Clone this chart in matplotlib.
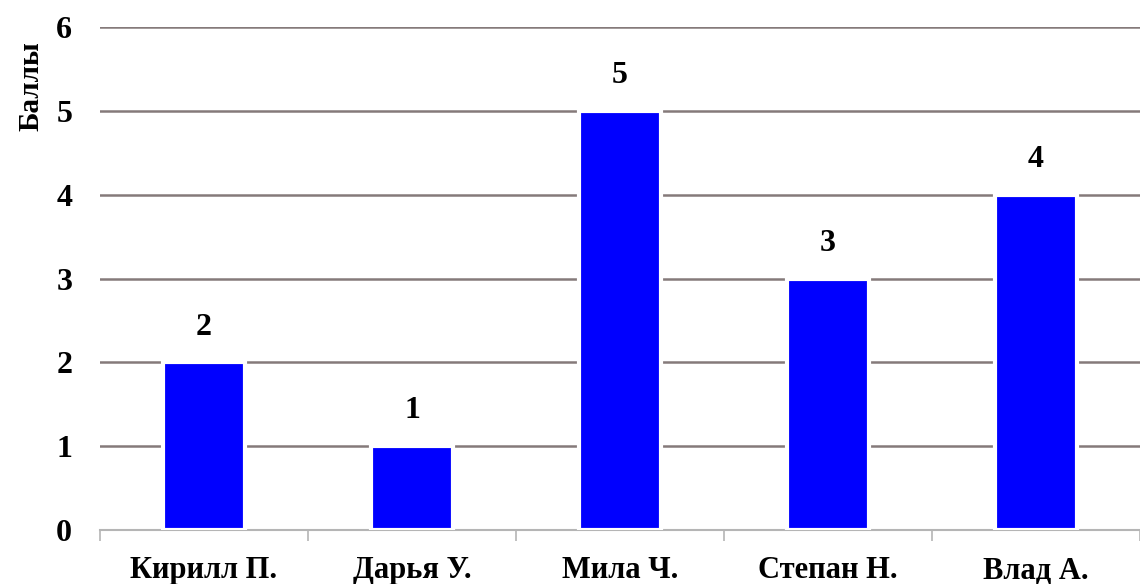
import matplotlib
matplotlib.use("Agg")
import matplotlib.pyplot as plt
import numpy as np

students = ["Кирилл П.", "Дарья У.", "Мила Ч.", "Степан Н.", "Влад А."]
scores = [2, 1, 5, 3, 4]
y_ticks = [0, 1, 2, 3, 4, 5, 6]

plt.rcParams["font.family"] = ["Liberation Serif", "DejaVu Serif"]
plt.rcParams["font.weight"] = "bold"

fig = plt.figure(figsize=(11.4, 5.84), dpi=100)
ax = fig.add_axes([100 / 1140, 1 - 530 / 584, 1 - 100 / 1140, (530 - 27) / 584])

x = np.arange(len(students))
bars = ax.bar(x, scores, width=0.39, color="#0000ff", edgecolor="white",
              linewidth=3, zorder=3)

for xi, v in zip(x, scores):
    ax.text(xi, v + 0.42, str(v), ha="center", va="center",
            fontsize=23, fontweight="bold", zorder=4)

ax.set_xlim(-0.5, len(students) - 0.5)
ax.set_ylim(0, 6)
ax.set_yticks(y_ticks)
ax.set_yticklabels([str(t) for t in y_ticks], fontsize=23, fontweight="bold")
ax.yaxis.grid(True, color="#857a7a", linewidth=1.8, zorder=1)
ax.tick_params(axis="y", length=0, pad=20)

ax.set_xticks(x)
ax.set_xticklabels(students, fontsize=22, fontweight="bold")
ax.set_xticks(np.arange(-0.5, len(students)), minor=True)
ax.tick_params(axis="x", which="major", length=0, pad=19)
ax.tick_params(axis="x", which="minor", length=8, width=1.2, color="#b5b5b5")

for side in ["top", "right", "left"]:
    ax.spines[side].set_visible(False)
ax.spines["bottom"].set_color("#b5b5b5")
ax.spines["bottom"].set_linewidth(1.5)

ax.set_ylabel("Баллы", fontsize=21, fontweight="bold")
ax.yaxis.set_label_coords(-0.053, 0.883)

fig.savefig("out.png", dpi=100)
